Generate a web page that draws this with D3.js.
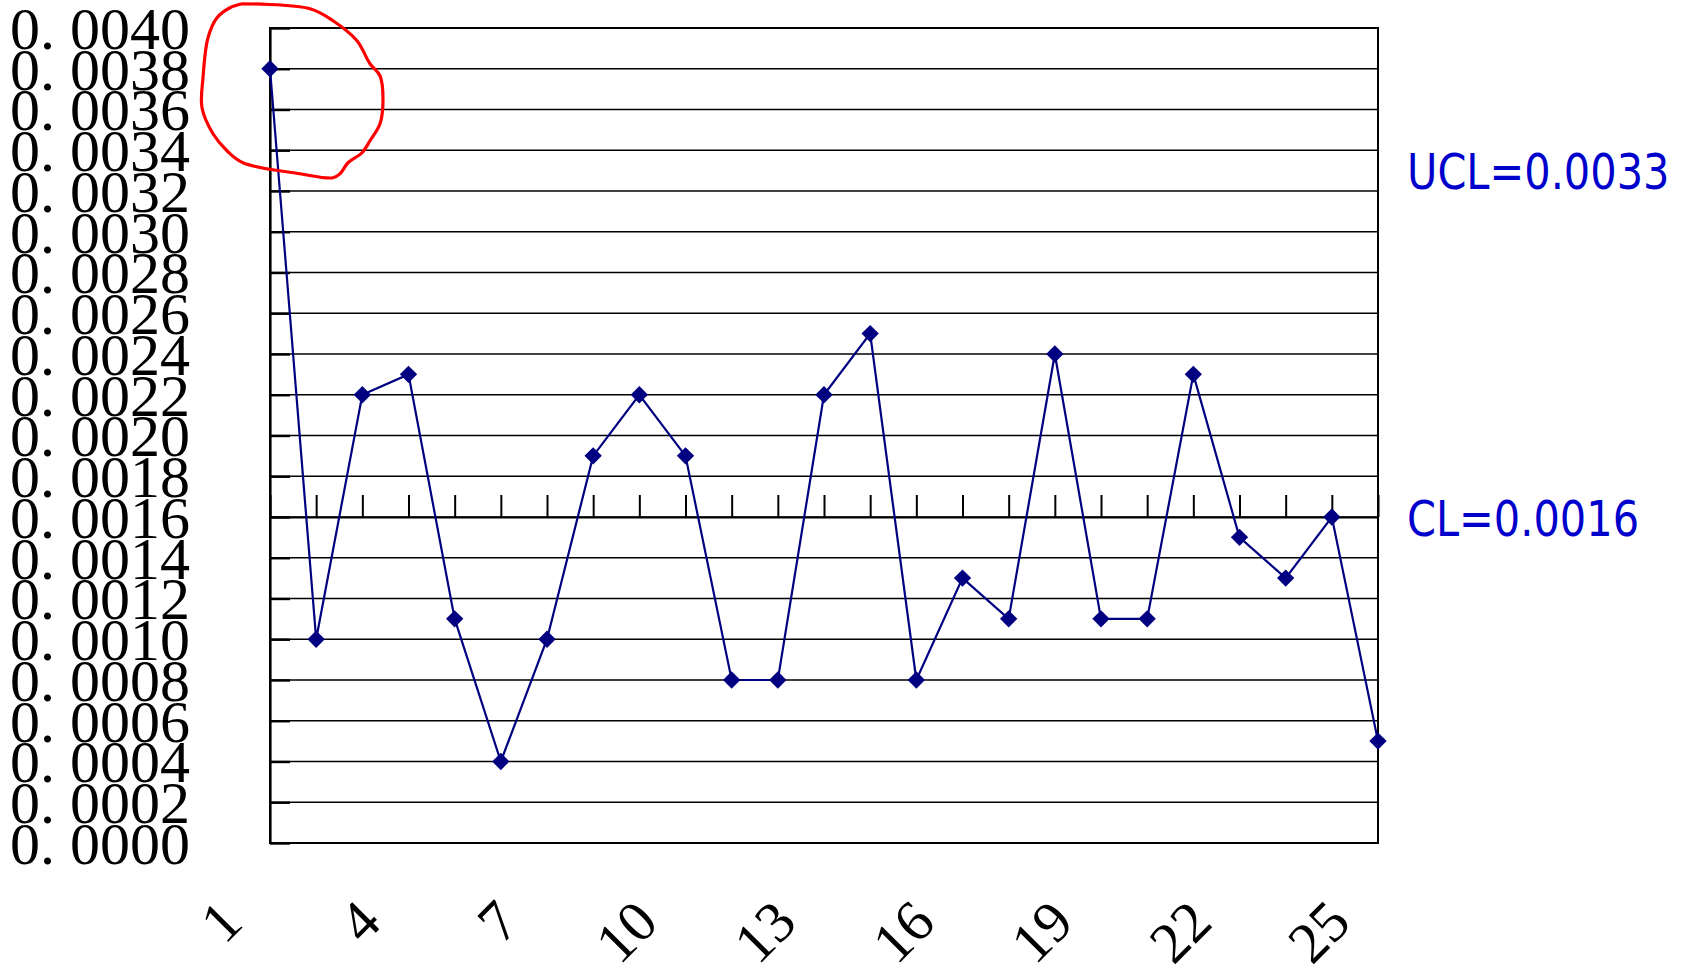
<!DOCTYPE html>
<html>
<head>
<meta charset="utf-8">
<script src="https://cdn.jsdelivr.net/npm/d3@7"></script>
<style>
  html, body { margin: 0; padding: 0; background: #fff; }
  svg { display: block; }
</style>
</head>
<body>
<svg id="chart" width="1684" height="971"></svg>
<script>
// Sample numbers 1..25
const categories = [1, 2, 3, 4, 5, 6, 7, 8, 9, 10, 11, 12, 13, 14, 15, 16, 17, 18, 19, 20, 21, 22, 23, 24, 25];
// Measured proportion per sample
const values = [0.0038, 0.0010, 0.0022, 0.0023, 0.0011, 0.0004, 0.0010, 0.0019, 0.0022, 0.0019,
                0.0008, 0.0008, 0.0022, 0.0025, 0.0008, 0.0013, 0.0011, 0.0024, 0.0011, 0.0011,
                0.0023, 0.0015, 0.0013, 0.0016, 0.0005];
// Control limits
const ucl = 0.0033;
const cl = 0.0016;
// Axis ticks
const yTicks = [0.0000, 0.0002, 0.0004, 0.0006, 0.0008, 0.0010, 0.0012, 0.0014, 0.0016, 0.0018,
                0.0020, 0.0022, 0.0024, 0.0026, 0.0028, 0.0030, 0.0032, 0.0034, 0.0036, 0.0038, 0.0040];
const yTickLabels = ["0. 0000", "0. 0002", "0. 0004", "0. 0006", "0. 0008", "0. 0010", "0. 0012",
                     "0. 0014", "0. 0016", "0. 0018", "0. 0020", "0. 0022", "0. 0024", "0. 0026",
                     "0. 0028", "0. 0030", "0. 0032", "0. 0034", "0. 0036", "0. 0038", "0. 0040"];
const xTickLabels = [1, 4, 7, 10, 13, 16, 19, 22, 25];
// Outline of the hand-drawn ring around the out-of-control sample (offsets from that point)
const ringOffsets = [[-28, -65], [40, -60], [63, -48], [87, -28], [100, -5], [110, 7], [113, 32],
                     [110, 55], [100, 72], [92, 84], [78, 94], [70, 105], [63, 109], [30, 105],
                     [-27, 94], [-43, 82], [-57, 65], [-68, 39], [-67, 9], [-62, -31], [-53, -51],
                     [-40, -61], [-28, -65]];

const svg = d3.select("#chart");
const margin = { left: 270, right: 306, top: 28, bottom: 128 };
const W = 1684, H = 971;

const x = d3.scalePoint().domain(categories).range([margin.left, W - margin.right]);
const y = d3.scaleLinear().domain([0, 0.0040]).range([H - margin.bottom, margin.top]);

const serif = "'Liberation Serif', 'Times New Roman', serif";
const lineColor = "#000080";
const labelBlue = "#0000cc";

// Horizontal gridlines
svg.append("g")
  .selectAll("line")
  .data(yTicks)
  .join("line")
  .attr("x1", x.range()[0]).attr("x2", x.range()[1])
  .attr("y1", d => y(d)).attr("y2", d => y(d))
  .attr("stroke", "#000").attr("stroke-width", 1.6);

// Y axis with short inward ticks
const yAxis = d3.axisLeft(y).tickValues(yTicks).tickSizeInner(-20).tickSizeOuter(0)
  .tickFormat((d, i) => yTickLabels[i]);
const gy = svg.append("g").attr("transform", `translate(${margin.left},0)`).call(yAxis);
gy.select(".domain").attr("stroke", "#000").attr("stroke-width", 2.2);
gy.selectAll(".tick line").attr("stroke", "#000").attr("stroke-width", 2.4);
gy.selectAll(".tick text")
  .attr("x", -80)
  .attr("dy", "0.34em")
  .attr("font-family", serif)
  .attr("font-size", 60)
  .attr("fill", "#000")
  .attr("text-anchor", "end");

// Plot frame (right, top, bottom edges)
svg.append("rect")
  .attr("x", x.range()[0]).attr("y", y(0.0040))
  .attr("width", x.range()[1] - x.range()[0])
  .attr("height", y(0) - y(0.0040))
  .attr("fill", "none").attr("stroke", "#000").attr("stroke-width", 2);

// Category axis crossing at the centre line, ticks pointing upward
const xAxis = d3.axisBottom(x).tickSizeInner(-22).tickSizeOuter(0).tickFormat("");
const gx = svg.append("g").attr("transform", `translate(0,${y(cl)})`).call(xAxis);
gx.select(".domain").attr("stroke", "#000").attr("stroke-width", 2);
gx.selectAll(".tick line").attr("stroke", "#000").attr("stroke-width", 2);

// Rotated category labels below the plot
svg.append("g")
  .selectAll("text")
  .data(xTickLabels)
  .join("text")
  .attr("transform", d => `translate(${x(d) - 25},${y(0) + 82}) rotate(-45)`)
  .attr("text-anchor", "end")
  .attr("font-family", serif)
  .attr("font-size", 58)
  .attr("fill", "#000")
  .text(d => d);

// Data series
const pts = categories.map((c, i) => ({ c, v: values[i] }));
svg.append("path")
  .datum(pts)
  .attr("fill", "none")
  .attr("stroke", lineColor)
  .attr("stroke-width", 2.2)
  .attr("d", d3.line().x(d => x(d.c)).y(d => y(d.v)));

svg.append("g")
  .selectAll("path")
  .data(pts)
  .join("path")
  .attr("transform", d => `translate(${x(d.c)},${y(d.v)}) rotate(45)`)
  .attr("d", d3.symbol().type(d3.symbolSquare).size(150)())
  .attr("fill", lineColor);

// Control limit labels
const limitLabels = [{ text: "UCL=0.0033", v: ucl }, { text: "CL=0.0016", v: cl }];
svg.append("g")
  .selectAll("text")
  .data(limitLabels)
  .join("text")
  .attr("x", x.range()[1] + 29)
  .attr("y", d => y(d.v))
  .attr("dy", "0.37em")
  .attr("font-family", "'DejaVu Sans', Verdana, sans-serif")
  .attr("font-size", 50)
  .attr("fill", labelBlue)
  .text(d => d.text)
  .each(function () {
    const w = this.getComputedTextLength();
    d3.select(this).attr("textLength", w * 0.83).attr("lengthAdjust", "spacingAndGlyphs");
  });

// Red ring marking the first sample
const p0 = pts[0];
svg.append("path")
  .datum(ringOffsets)
  .attr("fill", "none")
  .attr("stroke", "#ff0000")
  .attr("stroke-width", 3.2)
  .attr("stroke-linejoin", "round")
  .attr("d", d3.line()
    .x(d => x(p0.c) + d[0])
    .y(d => y(p0.v) + d[1])
    .curve(d3.curveCatmullRom.alpha(0.5)));
</script>
</body>
</html>
